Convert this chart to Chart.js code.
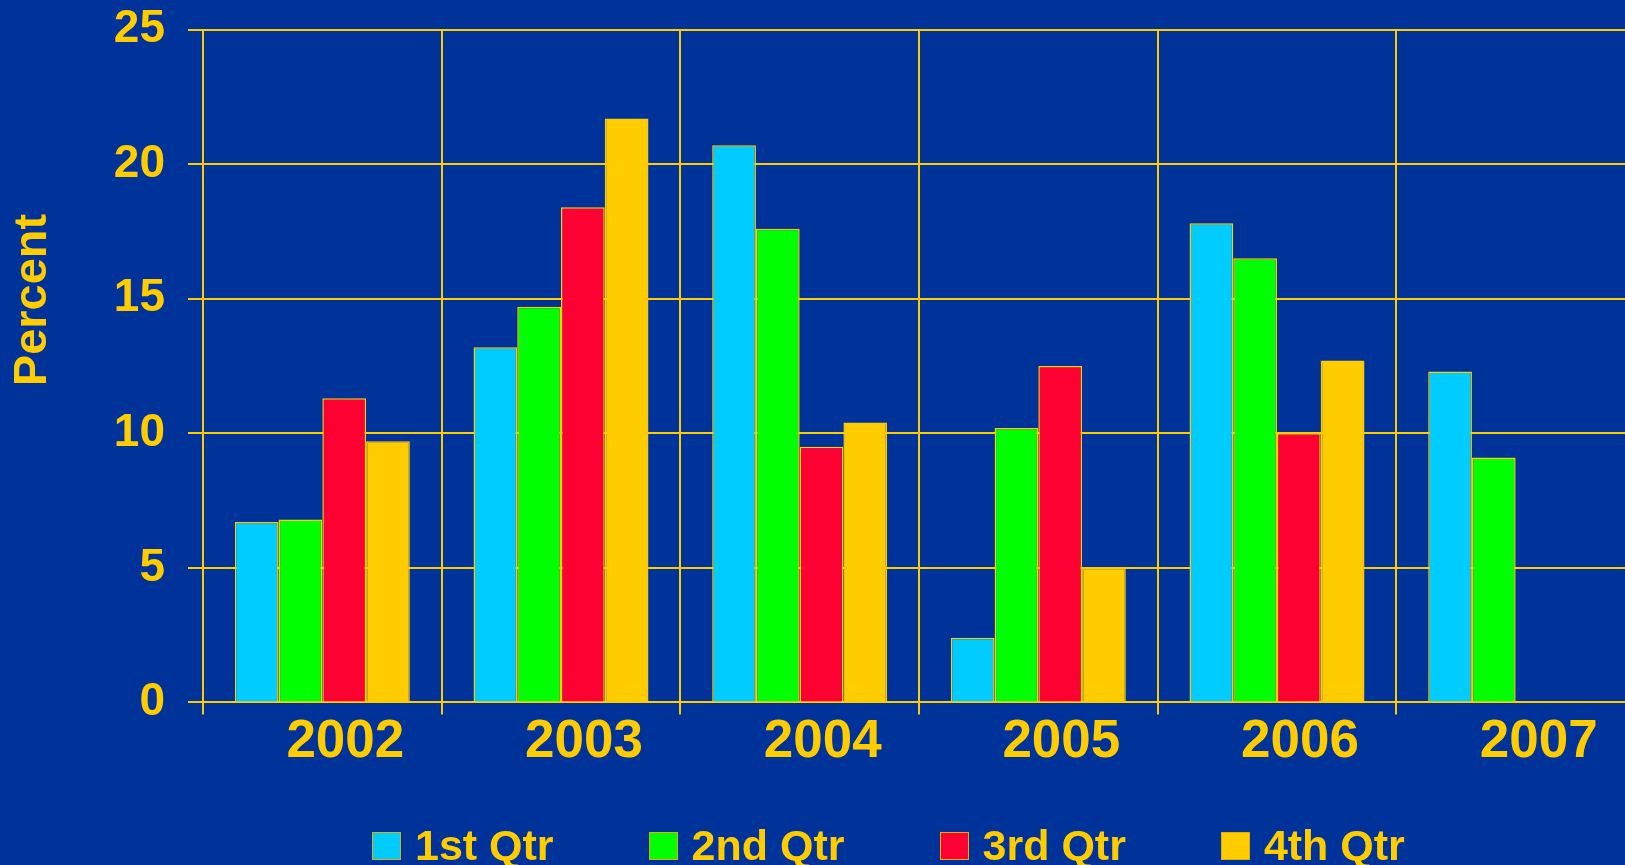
<!DOCTYPE html>
<html>
<head>
<meta charset="utf-8">
<title>Quarterly percent by year</title>
<script src="https://cdn.jsdelivr.net/npm/chart.js@4/dist/chart.umd.min.js"></script>
<style>
  html, body { margin: 0; padding: 0; background: #003399; overflow: hidden; }
  #wrap { position: relative; width: 1625px; height: 865px; overflow: hidden; }
  #plot { position: absolute; left: 0; top: -21px; width: 1635px; height: 865px; }
  #legend {
    position: absolute; left: 372px; top: 821px;
    display: flex; gap: 95px; align-items: center;
    font: bold 43px "Liberation Sans", Arial, sans-serif; color: #ffcc00;
  }
  #legend .item { display: flex; align-items: center; gap: 14px; white-space: nowrap; }
  #legend .box { width: 27px; height: 26px; border: 1px solid #e0b000; }
</style>
</head>
<body>
<div id="wrap">
  <div id="plot"><canvas id="qtrChart"></canvas></div>
  <div id="legend"></div>
</div>
<script>
// values
const years = ['2002', '2003', '2004', '2005', '2006', '2007'];
const q1 = [6.7, 13.2, 20.7, 2.4, 17.8, 12.3];
const q2 = [6.8, 14.7, 17.6, 10.2, 16.5, 9.1];
const q3 = [11.3, 18.4, 9.5, 12.5, 10.0, null];
const q4 = [9.7, 21.7, 10.4, 5.0, 12.7, null];
const seriesNames = ['1st Qtr', '2nd Qtr', '3rd Qtr', '4th Qtr'];
const yTicks = [0, 5, 10, 15, 20, 25];

const GOLD = '#ffcc00';
const colors = ['#00ccff', '#00ff00', '#ff0033', '#ffcc00'];
const FONT = '"Liberation Sans", Arial, sans-serif';

// y axis title sits above the middle of the plot, so it is drawn by hand
const yTitle = {
  id: 'yTitle',
  afterDraw(chart) {
    const ctx = chart.ctx;
    ctx.save();
    ctx.translate(33, 321); // canvas is shifted up 21px
    ctx.rotate(-Math.PI / 2);
    ctx.font = 'bold 47px ' + FONT;
    ctx.fillStyle = GOLD;
    ctx.textAlign = 'center';
    ctx.textBaseline = 'middle';
    ctx.fillText('Percent', 0, 0);
    ctx.restore();
  }
};

const datasets = [q1, q2, q3, q4].map((vals, i) => ({
  label: seriesNames[i],
  data: vals,
  backgroundColor: colors[i],
  borderColor: GOLD,
  borderWidth: 1.5,
  categoryPercentage: 0.733,
  barPercentage: 1.0
}));

new Chart(document.getElementById('qtrChart'), {
  type: 'bar',
  data: { labels: years, datasets },
  options: {
    responsive: true,
    maintainAspectRatio: false,
    animation: false,
    layout: { padding: { top: 1, bottom: 74, left: 0, right: 0 } },
    plugins: { legend: { display: false }, tooltip: { enabled: false } },
    scales: {
      x: {
        grid: { color: GOLD, lineWidth: 2, tickLength: 12, offset: true },
        border: { color: GOLD, width: 2 },
        ticks: {
          color: GOLD,
          font: { family: FONT, size: 53, weight: 'bold' },
          padding: -4,
          labelOffset: 23,
          maxRotation: 0,
          autoSkip: false
        }
      },
      y: {
        min: 0,
        max: 25,
        afterBuildTicks: (s) => { s.ticks = yTicks.map((v) => ({ value: v })); },
        afterFit: (s) => { s.width = 203; },
        grid: { color: GOLD, lineWidth: 2, tickLength: 15 },
        border: { color: GOLD, width: 2 },
        ticks: {
          color: GOLD,
          font: { family: FONT, size: 46, weight: 'bold' },
          padding: 23
        }
      }
    }
  },
  plugins: [yTitle]
});

document.getElementById('legend').innerHTML = seriesNames.map((name, i) => `
  <div class="item"><span class="box" style="background:${colors[i]}"></span><span>${name}</span></div>
`).join('');
</script>
</body>
</html>
